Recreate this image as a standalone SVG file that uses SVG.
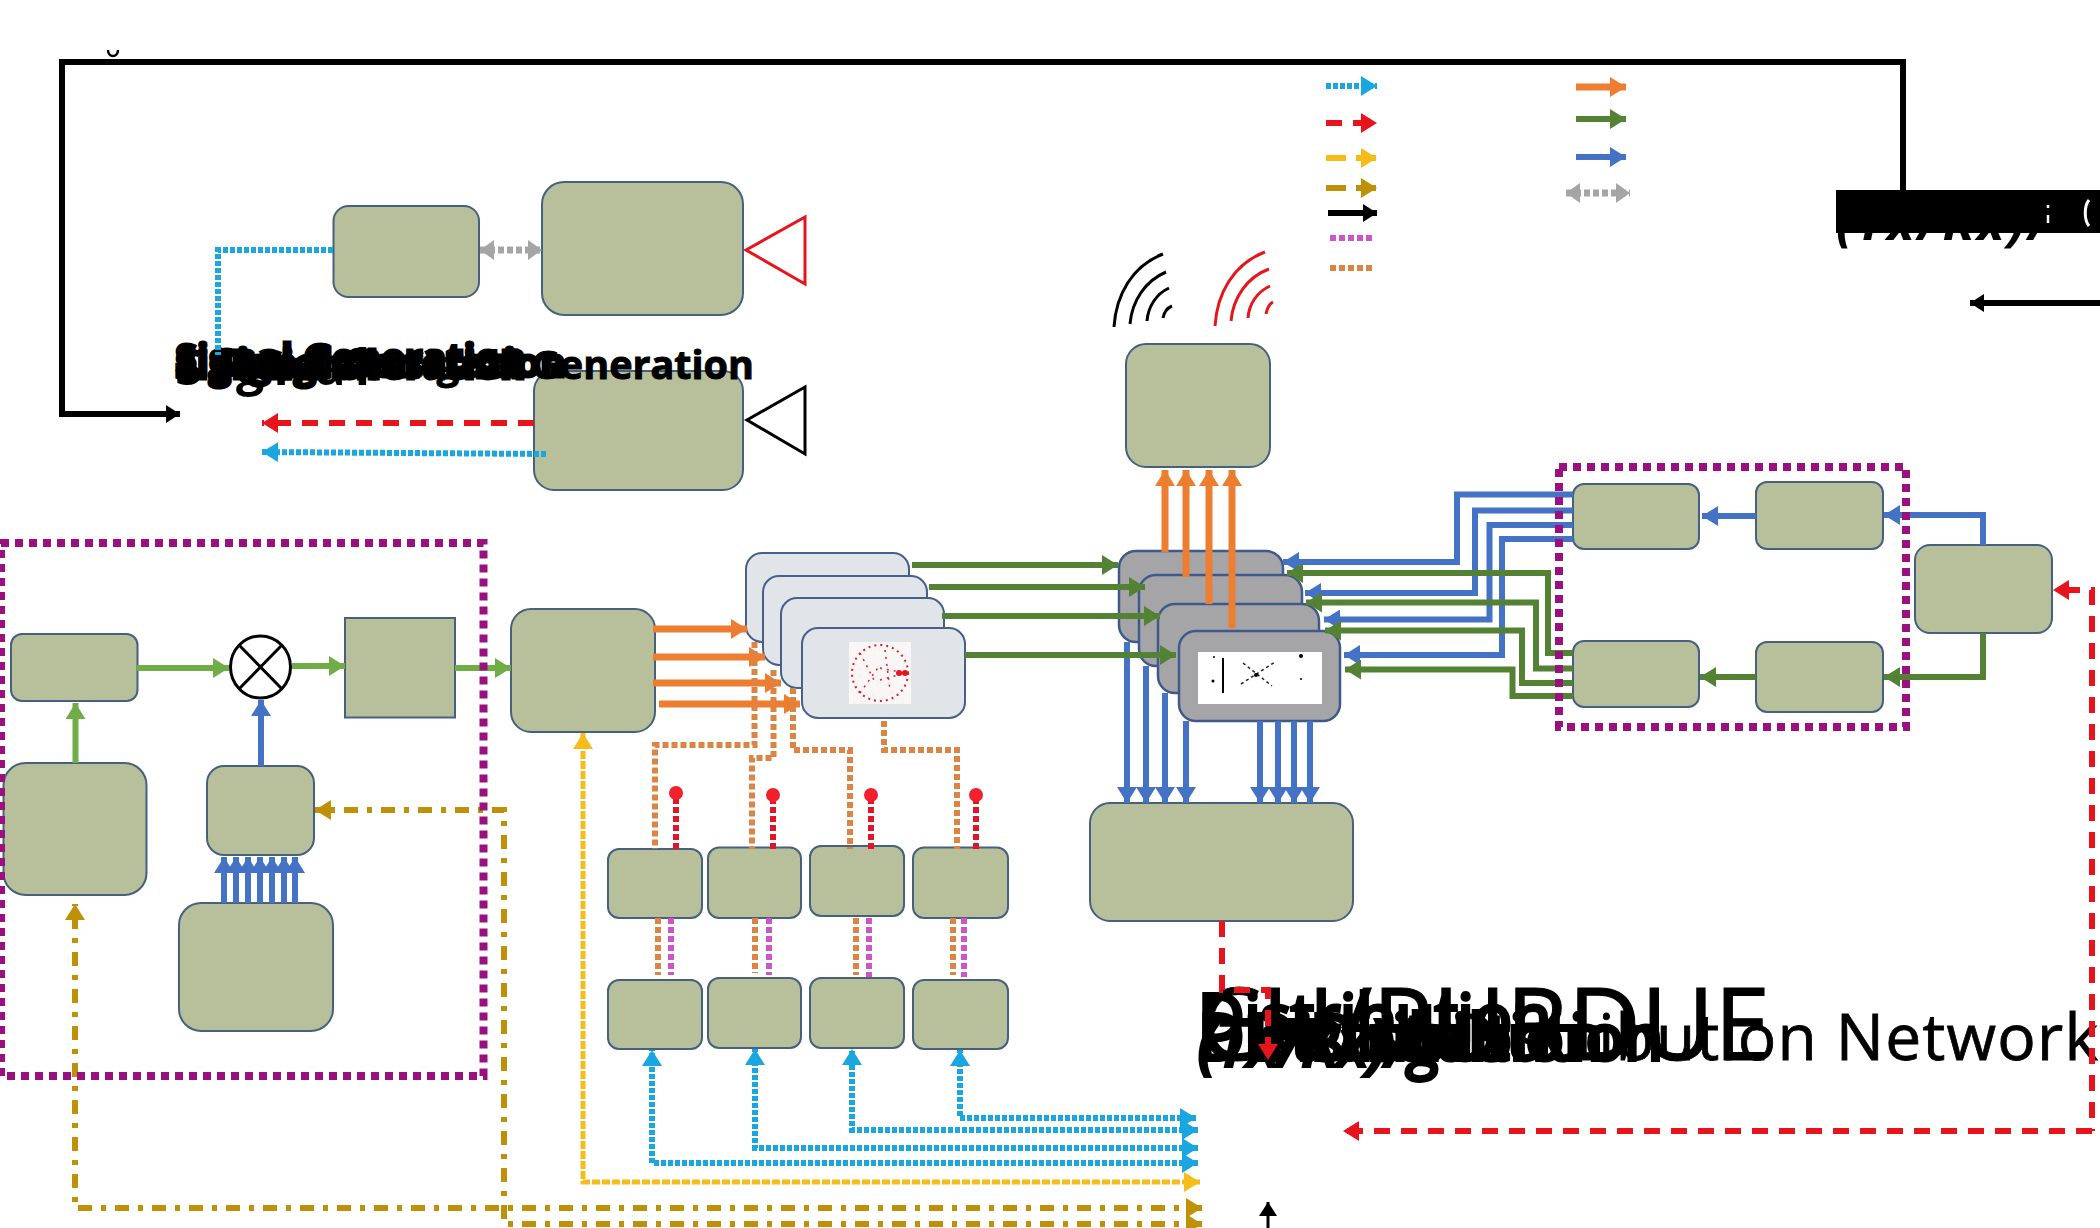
<svg xmlns="http://www.w3.org/2000/svg" width="2100" height="1228" viewBox="0 0 2100 1228">
<defs>
<style>
.n{fill:#b7c09b;stroke:#46607f;stroke-width:2}
.g{fill:#a5a5a7;stroke:#3f5a8a;stroke-width:2.5}
.l{fill:#e1e4e8;stroke:#46608a;stroke-width:2}
line,path,polyline{fill:none;stroke-linejoin:miter}
.k{stroke:#000;stroke-width:6}
.cy{stroke:#1aa7e0;stroke-width:6;stroke-dasharray:5 2}
.re{stroke:#e8141b;stroke-width:6;stroke-dasharray:16 11}
.ye{stroke:#f5bc1a;stroke-width:5;stroke-dasharray:8 2}
.go{stroke:#bf9108;stroke-width:6;stroke-dasharray:14 9 5 9}
.pi{stroke:#cc55c8;stroke-width:6;stroke-dasharray:6 3}
.od{stroke:#dc8444;stroke-width:6;stroke-dasharray:6 3}
.or{stroke:#ed7d31;stroke-width:7}
.dg{stroke:#548235;stroke-width:6}
.bl{stroke:#4472c4;stroke-width:6}
.lg{stroke:#70ad47;stroke-width:6}
.gr{stroke:#a5a5a5;stroke-width:7;stroke-dasharray:6 3}
.pu{fill:none;stroke:#99107e;stroke-width:8;stroke-dasharray:8 6}
.rp{stroke:#e01628;stroke-width:6;stroke-dasharray:6 3}
.a-cy{marker-end:url(#mcy)}.a-re{marker-end:url(#mre)}.a-ye{marker-end:url(#mye)}.a-go{marker-end:url(#mgo)}.a-k{marker-end:url(#mk)}.a-or{marker-end:url(#mor)}.a-dg{marker-end:url(#mdg)}.a-bl{marker-end:url(#mbl)}.a-lg{marker-end:url(#mlg)}.a-gr{marker-end:url(#mgr);marker-start:url(#mgr)}
.s-cy{marker-start:url(#mcy)}.s-ye{marker-start:url(#mye)}.s-go{marker-start:url(#mgo)}
.t{font-family:"Open Sans","Noto Sans",sans-serif;fill:#000}
.h{font-size:39.5px;font-weight:700;stroke:#000;stroke-width:1}
.hb{stroke-width:3}
.m{font-size:64px;stroke:#000;stroke-width:.8}
.mb{stroke-width:4}
.w{fill:none;stroke:#000;stroke-width:3}
.wr{fill:none;stroke:#e8141b;stroke-width:3}
.sm{fill:none;stroke:#d6202c;stroke-width:2;stroke-dasharray:2 4}
</style>
<marker id="mcy" markerUnits="userSpaceOnUse" markerWidth="16" markerHeight="20" refX="16" refY="10" orient="auto-start-reverse"><path d="M0,0L16,10L0,20z" style="fill:#1aa7e0;stroke:none"/></marker>
<marker id="mre" markerUnits="userSpaceOnUse" markerWidth="16" markerHeight="20" refX="16" refY="10" orient="auto-start-reverse"><path d="M0,0L16,10L0,20z" style="fill:#e8141b;stroke:none"/></marker>
<marker id="mye" markerUnits="userSpaceOnUse" markerWidth="16" markerHeight="20" refX="16" refY="10" orient="auto-start-reverse"><path d="M0,0L16,10L0,20z" style="fill:#f5bc1a;stroke:none"/></marker>
<marker id="mgo" markerUnits="userSpaceOnUse" markerWidth="16" markerHeight="20" refX="16" refY="10" orient="auto-start-reverse"><path d="M0,0L16,10L0,20z" style="fill:#bf9108;stroke:none"/></marker>
<marker id="mk" markerUnits="userSpaceOnUse" markerWidth="14" markerHeight="18" refX="14" refY="9" orient="auto-start-reverse"><path d="M0,0L14,9L0,18z" style="fill:#000;stroke:none"/></marker>
<marker id="mor" markerUnits="userSpaceOnUse" markerWidth="16" markerHeight="20" refX="16" refY="10" orient="auto-start-reverse"><path d="M0,0L16,10L0,20z" style="fill:#ed7d31;stroke:none"/></marker>
<marker id="mdg" markerUnits="userSpaceOnUse" markerWidth="16" markerHeight="20" refX="16" refY="10" orient="auto-start-reverse"><path d="M0,0L16,10L0,20z" style="fill:#548235;stroke:none"/></marker>
<marker id="mbl" markerUnits="userSpaceOnUse" markerWidth="16" markerHeight="20" refX="16" refY="10" orient="auto-start-reverse"><path d="M0,0L16,10L0,20z" style="fill:#4472c4;stroke:none"/></marker>
<marker id="mlg" markerUnits="userSpaceOnUse" markerWidth="16" markerHeight="20" refX="16" refY="10" orient="auto-start-reverse"><path d="M0,0L16,10L0,20z" style="fill:#70ad47;stroke:none"/></marker>
<marker id="mgr" markerUnits="userSpaceOnUse" markerWidth="14" markerHeight="20" refX="14" refY="10" orient="auto-start-reverse"><path d="M0,0L14,10L0,20z" style="fill:#a5a5a5;stroke:none"/></marker>
</defs>
<rect width="2100" height="1228" fill="#fff"/>

<g id="node-a"><rect class="n" x="333.5" y="206" width="145.5" height="91" rx="15"/></g>
<g id="node-b"><rect class="n" x="542" y="182" width="201" height="133" rx="22"/></g>
<g id="ant-red"><polygon points="746,250 805,217 805,284" fill="#fff" stroke="#e8141b" stroke-width="3"/></g>
<g id="node-c"><rect class="n" x="534" y="371" width="209" height="119" rx="20"/></g>
<g id="ant-black"><polygon points="747,420 805,387 805,454" fill="#fff" stroke="#000" stroke-width="3"/></g>
<g id="node-d"><rect class="n" x="1126" y="344" width="144" height="123" rx="20"/></g>
<g id="waves-black">
<path class="w" d="M1114,327C1116,295 1132,266 1163,254"/>
<path class="w" d="M1130,324C1132,301 1145,281 1166,272"/>
<path class="w" d="M1147,321C1148,307 1156,294 1169,288"/>
<path class="w" d="M1163,318C1164,313 1167,308 1172,306"/>
</g>
<g id="waves-red">
<path class="wr" d="M1215,326C1217,294 1233,264 1265,252"/>
<path class="wr" d="M1231,321C1233,298 1247,277 1269,269"/>
<path class="wr" d="M1248,318C1249,304 1257,292 1270,286"/>
<path class="wr" d="M1266,314C1267,309 1269,304 1273,302"/>
</g>
<g id="switch-1"><rect class="g" x="1119" y="551" width="164" height="91" rx="17"/></g>
<g id="switch-2"><rect class="g" x="1139" y="575" width="163" height="91" rx="17"/></g>
<g id="switch-3"><rect class="g" x="1158" y="604" width="161" height="89" rx="17"/></g>
<g id="switch-4"><rect class="g" x="1179" y="631" width="161" height="90" rx="17"/>
<rect x="1198" y="652" width="124" height="52" fill="#fff"/>
<line x1="1223" y1="658" x2="1223" y2="693" stroke="#000" stroke-width="2"/>
<path d="M1241,684L1275,662M1243,663L1272,686" stroke="#222" stroke-width="1.5" stroke-dasharray="3 3"/>
<circle cx="1256" cy="675" r="2" fill="#000"/><circle cx="1214" cy="657" r="1" fill="#000"/><circle cx="1213" cy="681" r="1.5" fill="#000"/><circle cx="1301" cy="656" r="2" fill="#000"/><circle cx="1301" cy="679" r="1" fill="#000"/>
</g>
<g id="pa-1"><rect class="l" x="746" y="553" width="163" height="89" rx="16"/></g>
<g id="pa-2"><rect class="l" x="763" y="576" width="164" height="89" rx="16"/></g>
<g id="pa-3"><rect class="l" x="781" y="598" width="163" height="90" rx="16"/></g>
<g id="pa-4"><rect class="l" x="802" y="628" width="163" height="90" rx="16"/>
<rect x="849" y="642" width="62" height="62" fill="#fbf6f6"/>
<circle class="sm" cx="880" cy="673" r="28"/>
<path d="M860,653L874,680M860,693L880,665M885,650L890,690M880,668L905,673M880,680L905,673" stroke="#d6202c" stroke-width="1.5" stroke-dasharray="2 5"/>
<circle cx="899" cy="673" r="3" fill="#e8141b"/><circle cx="905" cy="673" r="3" fill="#e8141b"/>
</g>
<g id="node-e"><rect class="n" x="1090" y="803" width="263" height="118" rx="20"/></g>
<g id="node-f"><rect class="n" x="1915" y="545" width="137" height="88" rx="15"/></g>
<g id="node-h1"><rect class="n" x="1573" y="484" width="126" height="65" rx="11"/></g>
<g id="node-h2"><rect class="n" x="1756" y="482" width="127" height="67" rx="11"/></g>
<g id="node-h3"><rect class="n" x="1573" y="641" width="126" height="66" rx="11"/></g>
<g id="node-h4"><rect class="n" x="1756" y="642" width="127" height="70" rx="11"/></g>
<g id="node-b1"><rect class="n" x="11" y="634" width="126.500" height="67" rx="11"/></g>
<g id="node-b2"><rect class="n" x="3.500" y="763" width="143" height="132" rx="22"/></g>
<g id="mixer"><ellipse cx="260.500" cy="667" rx="30" ry="31" fill="#fff" stroke="#000" stroke-width="3"/><path d="M239,645L282,689M282,645L239,689" stroke="#000" stroke-width="3"/></g>
<g id="node-b3"><rect class="n" x="345" y="618" width="110" height="99.500"/></g>
<g id="node-b4"><rect class="n" x="207" y="766" width="107" height="89" rx="17"/></g>
<g id="node-b5"><rect class="n" x="179" y="903" width="154" height="128" rx="22"/></g>
<g id="node-m"><rect class="n" x="511" y="609" width="144" height="123" rx="20"/></g>
<g id="row1-1"><rect class="n" x="608" y="849" width="94" height="69" rx="11"/></g>
<g id="row1-2"><rect class="n" x="708" y="847.500" width="93" height="70.500" rx="11"/></g>
<g id="row1-3"><rect class="n" x="810" y="846" width="94" height="70" rx="11"/></g>
<g id="row1-4"><rect class="n" x="913" y="847.500" width="95" height="70.500" rx="11"/></g>
<g id="row2-1"><rect class="n" x="608" y="980" width="94" height="69" rx="11"/></g>
<g id="row2-2"><rect class="n" x="708" y="978" width="93" height="70" rx="11"/></g>
<g id="row2-3"><rect class="n" x="810" y="978" width="94" height="70" rx="11"/></g>
<g id="row2-4"><rect class="n" x="913" y="980" width="95" height="69" rx="11"/></g>

<g id="labels">
<text class="t" x="175" y="385" font-size="50" font-weight="700" textLength="195">Signal</text>
<text class="t h" x="403" y="379">Signal Generation</text>
<text class="t h hb" x="175" y="379">Signal Generation</text>
<text class="t h hb" x="215" y="377">Signal Generation</text>
<text class="t h hb" x="175" y="372">Signal Generation</text>
<text class="t h hb" x="260" y="379">Signal</text>
<text class="t" x="1198" y="1060" font-size="100.500" stroke="#000" stroke-width="1">CH/PURDUE</text>
<text class="t m" x="1450" y="1060" textLength="648">Distribution Network</text>
<text class="t m mb" x="1198" y="1060">Distribution</text>
<text class="t m mb" x="1250" y="1060">Distribution</text>
<text class="t m mb" x="1310" y="1060">Distribution</text>
<text class="t m mb" x="1198" y="1040">Distribution</text>
<text class="t m mb" x="1198" y="1066" font-style="italic">(Tx/Rx)/g</text>
<text class="t" x="1836" y="240" font-size="52" font-weight="700" font-style="italic" textLength="214">(Tx/Rx)/</text>
<rect x="1836" y="190" width="264" height="43" fill="#000"/>
<path d="M2048,205v3M2048,215v8" stroke="#fff" stroke-width="2.500"/>
<path d="M2089,200c-5,6 -5,20 0,26" stroke="#fff" stroke-width="3"/>
</g>

<g id="connectors">
<polyline class="k a-k" points="1903,192 1903,62 62,62 62,414 180,414"/>
<polyline class="cy" points="333,250 218,250 218,355"/>
<line class="gr a-gr" x1="480" y1="250" x2="542" y2="250"/>
<line class="re a-re" x1="534" y1="423" x2="262" y2="423"/>
<line class="cy a-cy" x1="546" y1="454" x2="262" y2="452"/>
<line class="k a-k" x1="2100" y1="303" x2="1970" y2="303"/>
<line class="k a-k" style="stroke-width:3" x1="1268" y1="1228" x2="1268" y2="1202"/>
<line class="cy a-cy" x1="1326" y1="86" x2="1377" y2="86"/>
<line class="re a-re" x1="1326" y1="123" x2="1377" y2="123"/>
<line class="ye a-ye" style="stroke-dasharray:20 10;stroke-width:6" x1="1326" y1="158" x2="1377" y2="158"/>
<line class="go a-go" style="stroke-dasharray:20 10" x1="1326" y1="188" x2="1377" y2="188"/>
<line class="k a-k" x1="1328" y1="213" x2="1377" y2="213"/>
<line class="pi" x1="1330" y1="238" x2="1372" y2="238"/>
<line class="od" x1="1330" y1="268" x2="1372" y2="268"/>
<line class="or a-or" x1="1576" y1="87" x2="1626" y2="87"/>
<line class="dg a-dg" x1="1576" y1="119" x2="1626" y2="119"/>
<line class="bl a-bl" x1="1576" y1="157" x2="1626" y2="157"/>
<line class="gr a-gr" x1="1566" y1="193" x2="1630" y2="193"/>
<line class="or a-or" x1="1165" y1="552" x2="1165" y2="470"/>
<line class="or a-or" x1="1186" y1="577" x2="1186" y2="470"/>
<line class="or a-or" x1="1209" y1="604" x2="1209" y2="470"/>
<line class="or a-or" x1="1232" y1="628" x2="1232" y2="470"/>
<line class="bl a-bl" x1="1127" y1="642" x2="1127" y2="803"/>
<line class="bl a-bl" x1="1146" y1="666" x2="1146" y2="803"/>
<line class="bl a-bl" x1="1165" y1="693" x2="1165" y2="803"/>
<line class="bl a-bl" x1="1186" y1="721" x2="1186" y2="803"/>
<line class="bl a-bl" x1="1260" y1="721" x2="1260" y2="803"/>
<line class="bl a-bl" x1="1278" y1="721" x2="1278" y2="803"/>
<line class="bl a-bl" x1="1294" y1="721" x2="1294" y2="803"/>
<line class="bl a-bl" x1="1310" y1="721" x2="1310" y2="803"/>
<polyline class="bl a-bl" points="1573,494.500 1457,494.500 1457,562 1283,562"/>
<polyline class="bl a-bl" points="1573,510.500 1475,510.500 1475,593 1305,593"/>
<polyline class="bl a-bl" points="1573,525 1489.500,525 1489.500,619.500 1324,619.500"/>
<polyline class="bl a-bl" points="1573,539 1502,539 1502,655 1344,655"/>
<polyline class="dg a-dg" points="1573,653 1548,653 1548,573 1287,573"/>
<polyline class="dg a-dg" points="1573,668.500 1536,668.500 1536,602.500 1306,602.500"/>
<polyline class="dg a-dg" points="1573,683 1522,683 1522,630.500 1325,630.500"/>
<polyline class="dg a-dg" points="1573,696 1512.500,696 1512.500,669.500 1345,669.500"/>
<line class="dg a-dg" x1="912" y1="565" x2="1118" y2="565"/>
<line class="dg a-dg" x1="929" y1="587" x2="1145" y2="587"/>
<line class="dg a-dg" x1="942" y1="616" x2="1160" y2="616"/>
<line class="dg a-dg" x1="965" y1="655" x2="1176" y2="655"/>
<polyline class="bl a-bl" points="1983,545 1983,515 1884,515"/>
<line class="bl a-bl" x1="1756" y1="516" x2="1702" y2="516"/>
<polyline class="dg a-dg" points="1983,633 1983,677 1884,677"/>
<line class="dg a-dg" x1="1756" y1="677" x2="1700" y2="677"/>
<polyline class="re a-re" points="1222,921 1222,990 1268,990 1268,1060"/>
<polyline class="re a-re" points="2092,1131 1343,1131"/>
<polyline class="re a-re" points="2092,1131 2092,590 2053,590" style="stroke-dashoffset:14"/>
<line class="or a-or" x1="653" y1="629" x2="747" y2="629"/>
<line class="or a-or" x1="653" y1="657" x2="765" y2="657"/>
<line class="or a-or" x1="653" y1="683" x2="781" y2="683"/>
<line class="or a-or" x1="659" y1="704" x2="800" y2="704"/>
<polyline class="od" points="754.500,642 754.500,745 655,745 655,849"/>
<polyline class="od" points="773.500,670 773.500,758 752,758 752,849"/>
<polyline class="od" points="793,688 793,750 850,750 850,849"/>
<polyline class="od" points="884,721 884,750 957,750 957,849"/>
<line class="rp" x1="676" y1="849" x2="676" y2="797"/>
<line class="rp" x1="773" y1="849" x2="773" y2="799"/>
<line class="rp" x1="871" y1="849" x2="871" y2="799"/>
<line class="rp" x1="976" y1="849" x2="976" y2="799"/>
<circle cx="676" cy="793" r="7" fill="#f0202c"/><circle cx="773" cy="795" r="7" fill="#f0202c"/><circle cx="871" cy="795" r="7" fill="#f0202c"/><circle cx="976" cy="795" r="7" fill="#f0202c"/>
<line class="od" x1="658" y1="918" x2="658" y2="975"/><line class="od" x1="755" y1="918" x2="755" y2="973"/><line class="od" x1="856" y1="918" x2="856" y2="975"/><line class="od" x1="953" y1="918" x2="953" y2="975"/>
<line class="pi" x1="671" y1="918" x2="671" y2="975"/><line class="pi" x1="769" y1="918" x2="769" y2="975"/><line class="pi" x1="869" y1="918" x2="869" y2="977"/><line class="pi" x1="964" y1="918" x2="964" y2="977"/>
<polyline class="cy a-cy s-cy" points="1198,1163 652,1163 652,1050"/>
<polyline class="cy a-cy s-cy" points="1198,1148 755,1148 755,1049"/>
<polyline class="cy a-cy s-cy" points="1198,1130 852,1130 852,1049"/>
<polyline class="cy a-cy s-cy" points="1196,1118 960,1118 960,1050"/>
<polyline class="ye a-ye s-ye" points="1200,1182 583,1182 583,733"/>
<polyline class="go a-go s-go" points="1202,1208 75,1208 75,904"/>
<polyline class="go a-go s-go" points="1202,1224 504,1224 504,810 315,810"/>
<line class="lg a-lg" x1="137" y1="668" x2="229" y2="668"/>
<line class="lg a-lg" x1="292" y1="666" x2="345" y2="666"/>
<line class="lg a-lg" x1="455" y1="668" x2="511" y2="668"/>
<line class="lg a-lg" x1="75.500" y1="763" x2="75.500" y2="703"/>
<line class="bl a-bl" x1="261" y1="766" x2="261" y2="700"/>
<line class="bl a-bl" x1="224" y1="903" x2="224" y2="857"/><line class="bl a-bl" x1="236" y1="903" x2="236" y2="857"/><line class="bl a-bl" x1="248" y1="903" x2="248" y2="857"/><line class="bl a-bl" x1="260" y1="903" x2="260" y2="857"/><line class="bl a-bl" x1="272" y1="903" x2="272" y2="857"/><line class="bl a-bl" x1="284" y1="903" x2="284" y2="857"/><line class="bl a-bl" x1="295" y1="903" x2="295" y2="857"/>
<rect class="pu" x="1559" y="467" width="347" height="260"/>
<rect class="pu" x="1" y="543" width="482.500" height="533"/>
<path d="M108,50c0,8 10,8 10,0" stroke="#000" stroke-width="2.500"/>
</g>
</svg>
